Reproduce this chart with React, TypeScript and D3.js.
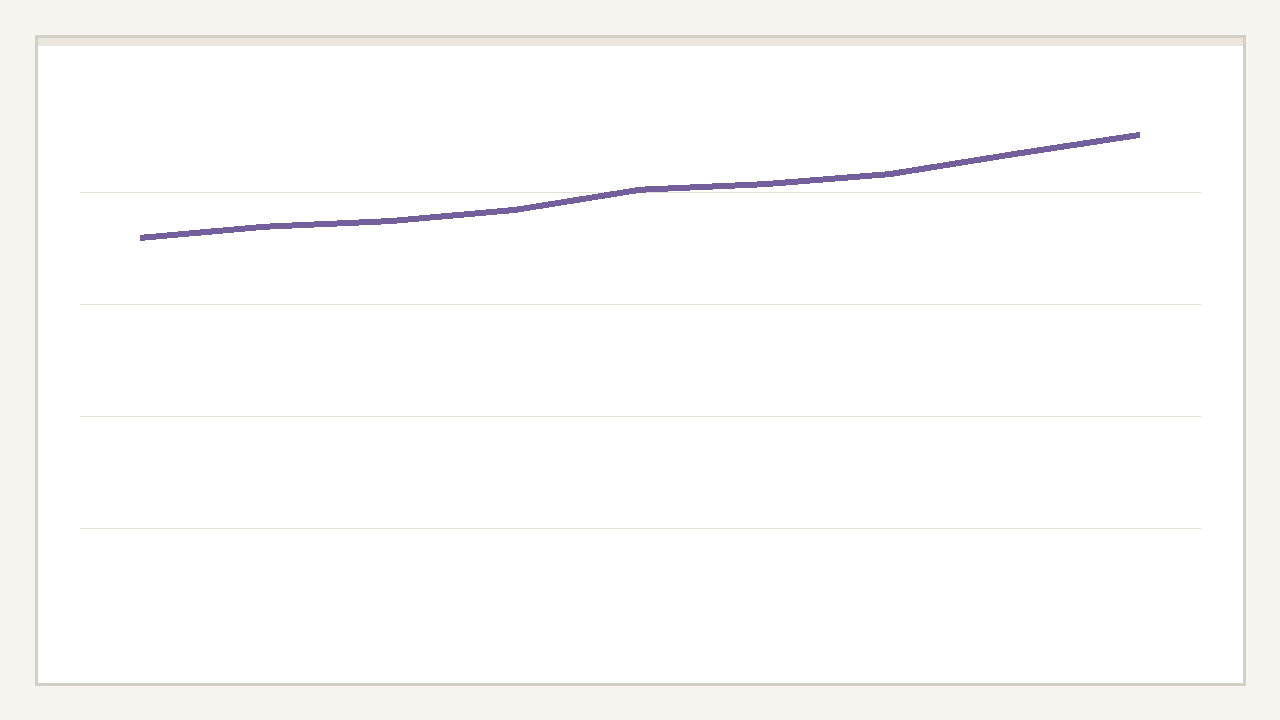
import React from "react";
import * as d3 from "d3";

const categories = ["P1", "P2", "P3", "P4", "P5", "P6", "P7", "P8", "P9"];
const values = [35.9, 36.9, 37.4, 38.4, 40.2, 40.7, 41.6, 43.4, 45.1];
const gridTicks = [10, 20, 30, 40];

const W = 1280;
const H = 720;

export default function App() {
  const x = d3.scalePoint<string>().domain(categories).range([80, 1200]).padding(0.48);
  const y = d3.scaleLinear().domain([0, 50]).range([640, 80]);
  const line = d3
    .line<number>()
    .x((_, i) => x(categories[i]) as number)
    .y((d) => y(d))
    .curve(d3.curveLinear);

  return (
    <div style={{ position: "fixed", left: 0, top: 0, width: W, height: H }}>
      <svg width={W} height={H} style={{ display: "block" }}>
        <rect x={0} y={0} width={W} height={H} fill="#f5f4ef" />
        <rect x={36.5} y={36.5} width={1208} height={648} fill="#ffffff" stroke="#d4cfc5" strokeWidth={3} />
        <rect x={38} y={38} width={1205} height={8} fill="#ebe6dd" />
        {gridTicks.map((t) => (
          <line
            key={t}
            x1={80}
            x2={1201}
            y1={Math.round(y(t)) + 0.5}
            y2={Math.round(y(t)) + 0.5}
            stroke="#e2e0d6"
            strokeWidth={1}
            shapeRendering="crispEdges"
          />
        ))}
        <path
          d={line(values) || ""}
          fill="none"
          stroke="#735f9b"
          strokeWidth={6}
          strokeLinecap="butt"
          strokeLinejoin="round"
          shapeRendering="crispEdges"
        />
      </svg>
    </div>
  );
}
